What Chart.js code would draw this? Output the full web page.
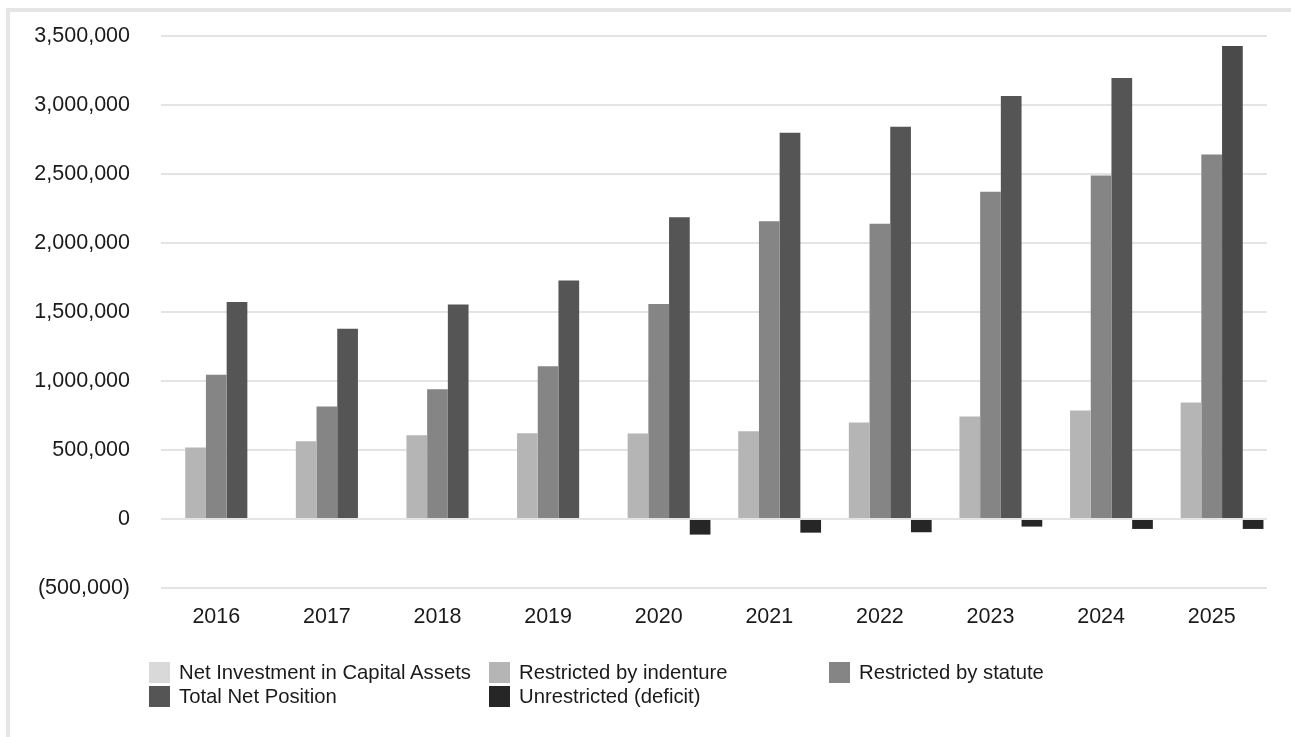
<!DOCTYPE html>
<html>
<head>
<meta charset="utf-8">
<title>Net Position</title>
<script src="https://cdn.jsdelivr.net/npm/chart.js@4/dist/chart.umd.min.js"></script>
<style>
    html, body { margin: 0; padding: 0; background: #fff; overflow: hidden; }
    #frame {
        position: absolute; left: 6px; top: 8px;
        width: 1300px; height: 760px;
        border: 4px solid #e5e5e5; box-sizing: border-box;
    }
    #chartBox { position: absolute; left: 0; top: 0; width: 1291px; height: 737px; }
    #legend {
        position: absolute; left: 149px; top: 662px;
        display: grid; grid-template-columns: 340px 340px 340px; row-gap: 3px;
        font-family: "Liberation Sans", Arial, sans-serif; font-size: 20.3px; color: #1a1a1a;
    }
    .item { display: flex; align-items: center; height: 21px; }
    .swatch { width: 21px; height: 21px; margin-right: 9px; flex: none; }
</style>
</head>
<body>
<div id="frame"></div>
<div id="chartBox"><canvas id="netPosition"></canvas></div>
<div id="legend"></div>
<script>
// fiscal years on the x axis
const years = ['2016', '2017', '2018', '2019', '2020', '2021', '2022', '2023', '2024', '2025'];

// series values in dollars
const netInvestment = [0, 0, 0, 0, 0, 0, 0, 0, 0, 0];
const restrictedIndenture = [519000, 563000, 607000, 622000, 620000, 635000, 700000, 743000, 786000, 844000];
const restrictedStatute = [1046000, 815000, 940000, 1106000, 1558000, 2157000, 2140000, 2372000, 2489000, 2641000];
const totalNetPosition = [1573000, 1378000, 1555000, 1728000, 2186000, 2799000, 2842000, 3066000, 3196000, 3428000];
const unrestricted = [0, 0, 0, 0, -113000, -99000, -96000, -55000, -72000, -72000];

// y axis range and tick step
const yMin = -500000;
const yMax = 3500000;
const yStep = 500000;

function money(v) {
    var s = Math.abs(v).toLocaleString('en-US');
    return v < 0 ? '(' + s + ')' : s;
}

var totalColors = years.map((y, i) => i == years.length - 1 ? '#4a4a4a' : '#555555');
var axisFont = { family: '"Liberation Sans", Arial, sans-serif', size: 21.5 };

const chart = new Chart(document.getElementById('netPosition'), {
    type: 'bar',
    data: {
        labels: years,
        datasets: [
            { label: 'Net Investment in Capital Assets', data: netInvestment, backgroundColor: '#d9d9d9' },
            { label: 'Restricted by indenture', data: restrictedIndenture, backgroundColor: '#b5b5b5' },
            { label: 'Restricted by statute', data: restrictedStatute, backgroundColor: '#858585' },
            { label: 'Total Net Position', data: totalNetPosition, backgroundColor: totalColors },
            { label: 'Unrestricted (deficit)', data: unrestricted, backgroundColor: '#262626' }
        ]
    },
    options: {
        responsive: true,
        maintainAspectRatio: false,
        animation: false,
        layout: { padding: { left: 0, right: 24, top: 36, bottom: 109 } },
        datasets: { bar: { categoryPercentage: 0.936, barPercentage: 1.0, borderWidth: 0 } },
        plugins: {
            legend: { display: false },
            tooltip: { enabled: false }
        },
        scales: {
            x: {
                afterFit: (scale) => { scale.height = 40; },
                grid: { display: false },
                border: { display: false },
                ticks: { padding: 8, color: '#1a1a1a', font: axisFont }
            },
            y: {
                min: yMin,
                max: yMax,
                // fixed axis width, no extra room above/below the plot
                afterFit: (scale) => {
                    scale.width = 161;
                    scale.paddingTop = 0;
                    scale.paddingBottom = 0;
                },
                grid: { color: '#e4e4e4', lineWidth: 2, drawTicks: false },
                border: { display: false },
                ticks: {
                    stepSize: yStep,
                    padding: 31,
                    color: '#1a1a1a',
                    font: axisFont,
                    callback: (v) => money(v)
                }
            }
        }
    }
});

// legend laid out in three fixed columns
var legend = document.getElementById('legend');
chart.data.datasets.forEach((ds) => {
    var item = document.createElement('div');
    item.className = 'item';
    var sw = document.createElement('span');
    sw.className = 'swatch';
    sw.style.background = Array.isArray(ds.backgroundColor) ? ds.backgroundColor[0] : ds.backgroundColor;
    var txt = document.createElement('span');
    txt.textContent = ds.label;
    item.appendChild(sw);
    item.appendChild(txt);
    legend.appendChild(item);
});
</script>
</body>
</html>
